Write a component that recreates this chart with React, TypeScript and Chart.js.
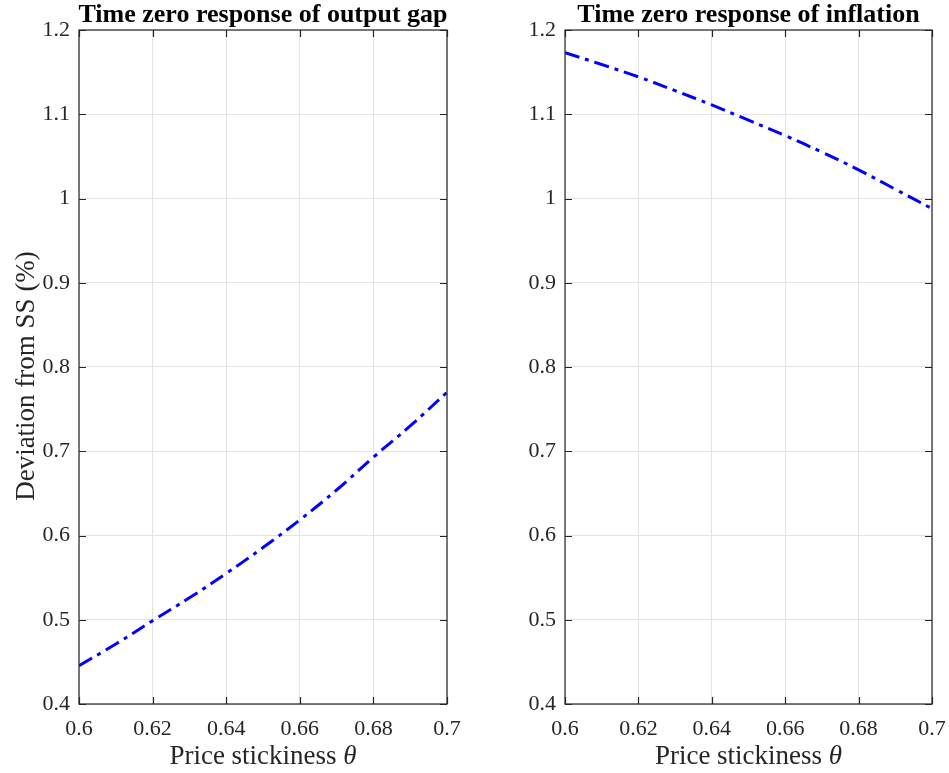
import React, { useEffect, useRef } from "react";
import { Chart, registerables } from "chart.js";

Chart.register(...registerables);

const theta = [0.6, 0.61, 0.62, 0.63, 0.64, 0.65, 0.66, 0.67, 0.68, 0.69, 0.7];
const outputGap = [0.4455, 0.4712, 0.4989, 0.526, 0.555, 0.5857, 0.6185, 0.654, 0.693, 0.73, 0.77];
const inflation = [1.1732, 1.159, 1.1444, 1.128, 1.111, 1.093, 1.0747, 1.055, 1.034, 1.011, 0.988];

const titles = ["Time zero response of output gap", "Time zero response of inflation"];
const yLabel = "Deviation from SS (%)";
const xLabelText = "Price stickiness ";
const xLabelSymbol = "θ";

const FONT = "'Liberation Serif', 'Times New Roman', serif";
const AXIS = "#262626";
const GRID = "#e3e3e3";

const CANVAS_H = 773;

function fmt(v: number) {
  return String(Number(Number(v).toFixed(3)));
}

const decorPlugin = {
  id: "matlabDecor",
  afterDraw(chart: any) {
    const { ctx, chartArea } = chart;
    const { left, right, top, bottom } = chartArea;
    const opts = chart.options.plugins.matlabDecor;
    const xs = chart.scales.x;
    const ys = chart.scales.y;
    const tl = 7;
    ctx.save();
    ctx.strokeStyle = AXIS;
    ctx.lineWidth = 1.2;
    ctx.beginPath();
    xs.ticks.forEach((t: any) => {
      const px = Math.round(xs.getPixelForValue(t.value)) + 0.5;
      ctx.moveTo(px, bottom);
      ctx.lineTo(px, bottom - tl);
      ctx.moveTo(px, top);
      ctx.lineTo(px, top + tl);
    });
    ys.ticks.forEach((t: any) => {
      const py = Math.round(ys.getPixelForValue(t.value)) + 0.5;
      ctx.moveTo(left, py);
      ctx.lineTo(left + tl, py);
      ctx.moveTo(right, py);
      ctx.lineTo(right - tl, py);
    });
    ctx.stroke();
    ctx.strokeRect(left, top, right - left, bottom - top);

    // title
    ctx.fillStyle = "#000";
    ctx.font = `bold 26px ${FONT}`;
    ctx.textAlign = "center";
    ctx.textBaseline = "alphabetic";
    ctx.fillText(opts.title, (left + right) / 2, 22);

    // x axis label
    ctx.fillStyle = AXIS;
    ctx.font = `27px ${FONT}`;
    const w1 = ctx.measureText(xLabelText).width;
    ctx.font = `italic 27px ${FONT}`;
    const w2 = ctx.measureText(xLabelSymbol).width;
    const sx = (left + right) / 2 - (w1 + w2) / 2;
    ctx.textAlign = "left";
    ctx.font = `27px ${FONT}`;
    ctx.fillText(xLabelText, sx, 764);
    ctx.font = `italic 27px ${FONT}`;
    ctx.fillText(xLabelSymbol, sx + w1, 764);

    // y axis label
    if (opts.showY) {
      ctx.font = `27px ${FONT}`;
      ctx.translate(34, 376);
      ctx.rotate(-Math.PI / 2);
      ctx.textAlign = "center";
      ctx.fillText(yLabel, 0, 0);
    }
    ctx.restore();
  },
};

function Panel(props: {
  data: number[];
  title: string;
  showY: boolean;
  left: number;
  width: number;
  axisW: number;
  padRight: number;
}) {
  const ref = useRef<HTMLCanvasElement | null>(null);
  useEffect(() => {
    if (!ref.current) return;
    const chart = new Chart(ref.current, {
      type: "line",
      data: {
        labels: theta,
        datasets: [
          {
            data: theta.map((t, i) => ({ x: t, y: props.data[i] })),
            borderColor: "#0000ff",
            borderWidth: 3,
            borderDash: [15, 6, 4, 6],
            pointRadius: 0,
            tension: 0.4,
            fill: false,
          },
        ],
      },
      options: {
        animation: false,
        responsive: false,
        maintainAspectRatio: false,
        devicePixelRatio: 1,
        layout: { padding: { top: 30, right: props.padRight, left: 0, bottom: 0 } },
        plugins: {
          legend: { display: false },
          tooltip: { enabled: false },
          title: { display: false },
          matlabDecor: { title: props.title, showY: props.showY },
        } as any,
        scales: {
          x: {
            type: "linear",
            min: 0.6,
            max: 0.7,
            ticks: {
              stepSize: 0.02,
              padding: 12,
              color: AXIS,
              font: { family: FONT, size: 22 },
              callback: (v: any) => fmt(v),
              maxRotation: 0,
            },
            grid: { color: GRID, drawTicks: false, lineWidth: 1 },
            border: { display: false },
            afterFit: (s: any) => {
              s.height = CANVAS_H - 704;
              s.paddingLeft = 0;
              s.paddingRight = 0;
            },
          },
          y: {
            type: "linear",
            min: 0.4,
            max: 1.2,
            ticks: {
              stepSize: 0.1,
              padding: 9,
              color: AXIS,
              font: { family: FONT, size: 22 },
              callback: (v: any) => fmt(v),
            },
            grid: { color: GRID, drawTicks: false, lineWidth: 1 },
            border: { display: false },
            afterFit: (s: any) => {
              s.width = props.axisW;
              s.paddingTop = 0;
              s.paddingBottom = 0;
            },
          },
        },
      },
      plugins: [decorPlugin],
    });
    return () => chart.destroy();
  }, []);
  return (
    <canvas
      ref={ref}
      width={props.width}
      height={CANVAS_H}
      style={{ position: "absolute", left: props.left, top: 0, width: props.width, height: CANVAS_H }}
    />
  );
}

export default function App() {
  return (
    <div style={{ position: "fixed", left: 0, top: 0, width: 949, height: 773, background: "#fff" }}>
      <Panel data={outputGap} title={titles[0]} showY={true} left={0} width={480} axisW={79} padRight={33} />
      <Panel data={inflation} title={titles[1]} showY={false} left={480} width={469} axisW={85} padRight={17} />
    </div>
  );
}
